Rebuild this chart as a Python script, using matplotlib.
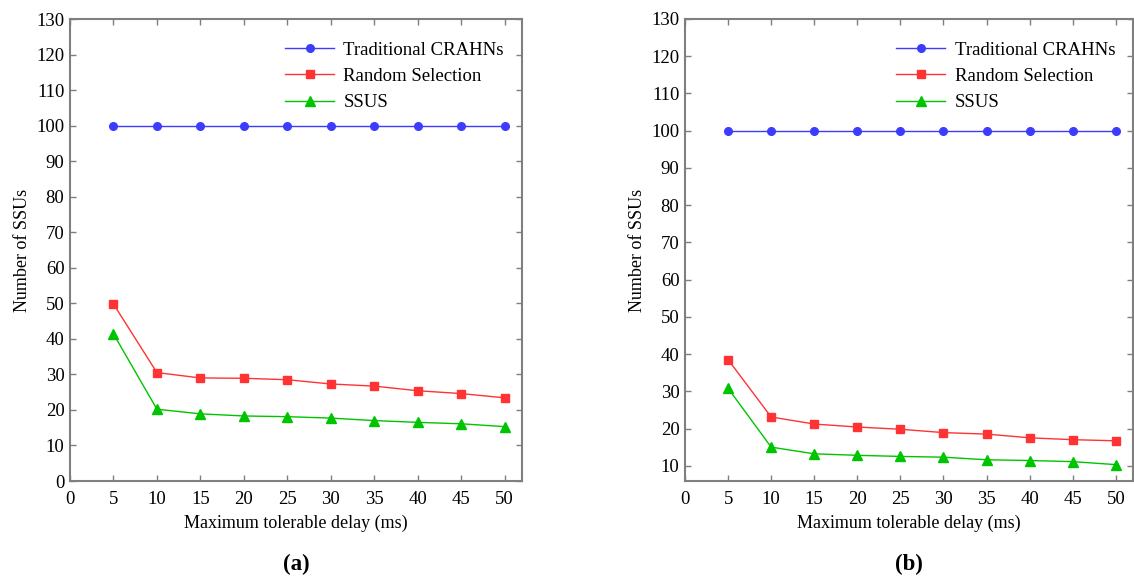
import numpy as np
import matplotlib
matplotlib.use("Agg")
from matplotlib import pyplot as plt

# data
delay = [5, 10, 15, 20, 25, 30, 35, 40, 45, 50]
trad_a = [100, 100, 100, 100, 100, 100, 100, 100, 100, 100]
rand_a = [49.8, 30.5, 29.0, 28.9, 28.5, 27.3, 26.7, 25.4, 24.6, 23.4]
ssus_a = [41.4, 20.2, 18.9, 18.3, 18.1, 17.7, 17.0, 16.5, 16.1, 15.3]
trad_b = [100, 100, 100, 100, 100, 100, 100, 100, 100, 100]
rand_b = [38.5, 23.1, 21.2, 20.4, 19.8, 18.9, 18.5, 17.5, 17.0, 16.7]
ssus_b = [30.8, 15.0, 13.2, 12.8, 12.5, 12.3, 11.6, 11.4, 11.1, 10.3]
xticks = [0, 5, 10, 15, 20, 25, 30, 35, 40, 45, 50]
yticks = list(range(0, 131, 10))

plt.rcParams['font.family'] = ['Liberation Serif', 'DejaVu Serif']
gray = '#7f7f7f'

fig = plt.figure(figsize=(11.34, 5.78), dpi=100)
ax_a = fig.add_axes([70/1134, 97/578, 452/1134, 462/578])
ax_b = fig.add_axes([685/1134, 97/578, 448/1134, 462/578])

panels = [(ax_a, trad_a, rand_a, ssus_a, (0, 130), '(a)'),
          (ax_b, trad_b, rand_b, ssus_b, (5.9, 130), '(b)')]

for ax, tr, rn, ss, ylim, tag in panels:
    ax.plot(delay, tr, color='#3c3cff', lw=1, marker='o', ms=5.5, label='Traditional CRAHNs')
    ax.plot(delay, rn, color='#ff3333', lw=1, marker='s', ms=5.5, label='Random Selection')
    ax.plot(delay, ss, color='#00c400', lw=1, marker='^', ms=6.5, label='SSUS')
    ax.set_xlim(0, 52)
    ax.set_ylim(*ylim)
    ax.set_xticks(xticks)
    ax.set_yticks([t for t in yticks if t >= ylim[0]])
    ax.tick_params(direction='in', top=True, right=True, color=gray,
                   labelsize=13.5, length=4, width=1)
    ax.tick_params(axis='x', pad=7)
    ax.tick_params(axis='y', pad=4)
    for s in ax.spines.values():
        s.set_color(gray)
        s.set_linewidth(1.5)
    ax.set_xlabel('Maximum tolerable delay (ms)', fontsize=13, labelpad=5)
    ax.set_ylabel('Number of SSUs', fontsize=13, labelpad=4)
    ax.legend(loc='upper right', frameon=False, fontsize=13.5, handlelength=2.6,
              handletextpad=0.5, labelspacing=0.48,
              bbox_to_anchor=(0.985, 0.975), borderaxespad=0.2)
    ax.text(0.5, -0.18, tag, transform=ax.transAxes, ha='center', va='center',
            fontsize=16.5, fontweight='bold')

fig.savefig('out.png', dpi=100)
